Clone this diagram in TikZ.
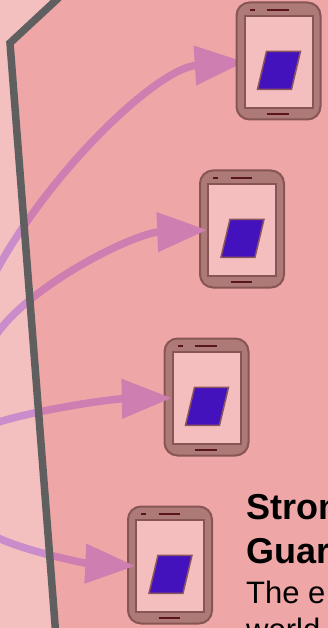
\documentclass[tikz,border=0pt]{standalone}
\usepackage{fontspec}
\setmainfont{Liberation Sans}
\usetikzlibrary{arrows.meta}
\definecolor{leftbg}{RGB}{244,191,191}
\definecolor{tintred}{RGB}{220,70,70}
\definecolor{wallgray}{RGB}{95,95,95}
\definecolor{flowpink}{RGB}{203,140,203}
\definecolor{bodyfill}{RGB}{162,135,132}
\definecolor{bodyedge}{RGB}{114,89,89}
\definecolor{screenfill}{RGB}{250,221,221}
\definecolor{slotcol}{RGB}{57,8,20}
\definecolor{tileblue}{RGB}{30,6,219}
\definecolor{tileedge}{RGB}{120,89,101}
\tikzset{
  phonebody/.style={draw=bodyedge,fill=bodyfill,line width=2pt,rounded corners=13pt,
    minimum width=84pt,minimum height=117pt,inner sep=0pt},
  phonescreen/.style={draw=bodyedge,fill=screenfill,line width=2pt,
    minimum width=68pt,minimum height=92pt,inner sep=0pt},
  slot/.style={slotcol,line width=1.8pt},
  flow/.style={flowpink,line width=7.5pt,-{Triangle[length=50pt,width=38pt]}},
  headline/.style={anchor=base west,font=\bfseries\fontsize{36}{36}\selectfont,inner sep=0pt},
  bodyline/.style={anchor=base west,font=\fontsize{31}{31}\selectfont,inner sep=0pt}
}
\newcommand{\phone}[2]{
\begin{scope}[shift={#2}]
\node[phonebody] (#1body) at (0,0) {};
\node[phonescreen] (#1screen) at (0.25,1) {};
\draw[slot] (-28.7,-51.3) -- (-23.7,-51.3);
\draw[slot] (-11.3,-51.3) -- (10,-51.3);
\draw[slot] (-11.3,52.7) -- (10,52.7);
\draw[draw=tileedge,fill=tileblue,line width=1.5pt] (-12,-9.7) -- (22,-9.7) -- (13,28.3) -- (-21,28.3) -- cycle;
\end{scope}
}
\begin{document}
\begin{tikzpicture}[x=1pt,y=-1pt]
\clip (0,0) rectangle (328,628);
\fill[leftbg] (0,0) rectangle (328,628);
% free ends of the flows
\coordinate (sa) at (-6,275);
\coordinate (sb) at (-6,338);
\coordinate (sc) at (-6,423.5);
\coordinate (sd) at (-6,536);
% the top phone lies over its arrow
\coordinate (ta) at (244.75,62);
\draw[flow] (sa) .. controls (50,170) and (158,68) .. (ta);
\phone{a}{(278.5,61)}
\phone{b}{(242,229)}
\phone{c}{(206.5,397)}
\phone{d}{(170,565)}
\draw[flow] (sb) .. controls (28,285) and (135,233) .. (bscreen.west);
\draw[flow] (sc) .. controls (35,410) and (110,399) .. (cscreen.west);
\draw[flow] (sd) .. controls (28,553) and (92,564) .. (dscreen.west);
% wall and tinted side
\coordinate (wa) at (67,-10);
\coordinate (wb) at (10,43);
\coordinate (wc) at (57,650);
\fill[tintred,opacity=0.2] (wa) -- (wb) -- (wc) -- (340,650) -- (340,-10) -- cycle;
\draw[wallgray,line width=7.5pt,line join=miter] (wa) -- (wb) -- (wc);
% text
\node[headline] (t1) at (246,519) {Stron};
\node[headline] (t2) at (246,563) {Guar};
\node[bodyline] (t3) at (246,603) {The e};
\node[bodyline] (t4) at (246,640) {world};
\end{tikzpicture}
\end{document}
